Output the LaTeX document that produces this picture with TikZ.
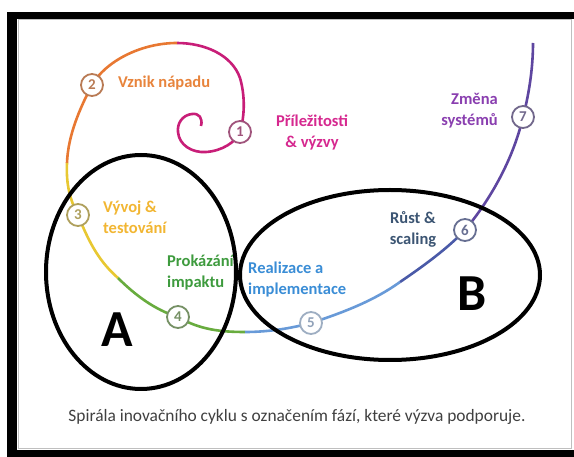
\documentclass[tikz,border=0pt]{standalone}
\usepackage{fontspec}
\setmainfont{Carlito}
\usetikzlibrary{positioning}

\definecolor{cMag}{RGB}{200,30,120}
\definecolor{cOra}{RGB}{232,120,50}
\definecolor{cYel}{RGB}{232,200,50}
\definecolor{cGre}{RGB}{104,172,62}
\definecolor{cLbl}{RGB}{104,154,216}
\definecolor{cBlu}{RGB}{80,118,200}
\definecolor{cNav}{RGB}{74,90,168}
\definecolor{cPur}{RGB}{94,70,160}
\definecolor{tMag}{RGB}{214,40,143}
\definecolor{tOra}{RGB}{232,132,60}
\definecolor{tYel}{RGB}{242,182,50}
\definecolor{tGre}{RGB}{62,155,62}
\definecolor{tBlu}{RGB}{58,141,214}
\definecolor{tSla}{RGB}{60,85,115}
\definecolor{tPur}{RGB}{138,63,176}

\begin{document}
\begin{tikzpicture}[x=1pt, y=-1pt,
    font=\bfseries\fontsize{16.5}{21}\selectfont,
    phase/.style = {draw, circle, fill=white, line width=1.8pt, minimum size=22pt,
        inner sep=0pt, font=\bfseries\fontsize{15}{15}\selectfont},
    lbl/.style = {inner sep=0pt},
    arm/.style = {line width=2.6pt},
    ring/.style = {draw=black, line width=4pt}]
    \useasboundingbox (0,0) rectangle (574,457);
    \fill[white] (0,0) rectangle (574,457);
    \fill[black] (7,12) rectangle (574,457);
    \fill[white] (17,19) rectangle (574,450);
    \draw[gray!50, line width=1pt] (18,20) rectangle (571,449);
    % spiral
    \coordinate (e0) at (201,126);
    \coordinate (p1) at (240,132);
    \coordinate (p2) at (92,85);
    \coordinate (p3) at (78,215);
    \coordinate (p4) at (178,317);
    \coordinate (p5) at (311,323);
    \coordinate (p6) at (465,230);
    \coordinate (p7) at (523,117);
    \coordinate (e1) at (533,43);
    \coordinate (q1) at (177,43);
    \coordinate (q2) at (67,163);
    \coordinate (q3) at (118,278);
    \coordinate (q4) at (245,332);
    \coordinate (q5) at (400,282);
    \draw[arm, cMag] (e0) .. controls (203,118) and (199,113) .. (192,114)
        .. controls (182,115) and (177,124) .. (178,132)
        .. controls (179,145) and (192,153) .. (206,152)
        .. controls (222,151) and (236,142) .. (p1)
        .. controls (245,115) and (245,95) .. (240,78)
        .. controls (232,55) and (205,43) .. (q1);
    \draw[arm, cOra] (q1) .. controls (140,43) and (105,62) .. (p2)
        .. controls (80,108) and (68,135) .. (q2);
    \draw[arm, cYel] (q2) .. controls (66,185) and (70,200) .. (p3)
        .. controls (90,245) and (100,262) .. (q3);
    \draw[arm, cGre] (q3) .. controls (135,295) and (155,310) .. (p4)
        .. controls (200,330) and (222,332) .. (q4);
    \draw[arm, cLbl] (q4) .. controls (270,332) and (292,328) .. (p5)
        .. controls (345,312) and (375,300) .. (q5);
    \draw[arm, cNav] (q5) .. controls (425,265) and (448,248) .. (p6);
    \draw[arm, cPur] (p6) .. controls (490,200) and (513,160) .. (p7)
        .. controls (530,90) and (533,65) .. (e1);
    % phases
    \node[phase, draw=cMag!45!gray, text=cMag!45!gray] (n1) at (p1) {1};
    \node[phase, draw=cOra!55!gray, text=cOra!55!gray] (n2) at (p2) {2};
    \node[phase, draw=cYel!45!gray, text=cYel!45!gray] (n3) at (p3) {3};
    \node[phase, draw=cGre!40!gray, text=cGre!40!gray] (n4) at (p4) {4};
    \node[phase, draw=cLbl!45!gray!70, text=cLbl!45!gray!80] (n5) at (p5) {5};
    \node[phase, draw=cNav!45!gray, text=cNav!45!gray] (n6) at (p6) {6};
    \node[phase, draw=cPur!40!gray, text=cPur!40!gray] (n7) at (p7) {7};
    % labels
    \node[lbl, anchor=west, text=tOra] (t2) at (118,83) {Vznik nápadu};
    \node[lbl, align=center, text=tMag] (t1) at (312,132) {Příležitosti\\\& výzvy};
    \node[lbl, anchor=west, align=left, text=tYel] (t3) at (103,217) {Vývoj \&\\testování};
    \node[lbl, anchor=west, align=left, text=tGre] (t4) at (167,273) {Prokázání\\impaktu};
    \node[lbl, anchor=west, align=left, text=tBlu] (t5) at (248,280) {Realizace a\\implementace};
    \node[lbl, align=center, text=tSla] (t6) at (413,229) {Růst \&\\scaling};
    \node[lbl, anchor=east, align=right, text=tPur] (t7) at (498,111) {Změna\\systémů};
    % groups
    \draw[ring] (141,272) ellipse [x radius=95pt, y radius=117pt];
    \draw[ring] (390,275) ellipse [x radius=150pt, y radius=85pt];
    \node[font=\bfseries\fontsize{52}{52}\selectfont] (ga) at (117,330) {A};
    \node[font=\bfseries\fontsize{52}{52}\selectfont] (gb) at (472,294) {B};
    \node[font=\fontsize{17.4}{17.4}\selectfont, text=black!75] (cap) at (297,417)
        {Spirála inovačního cyklu s označením fází, které výzva podporuje.};
\end{tikzpicture}
\end{document}
